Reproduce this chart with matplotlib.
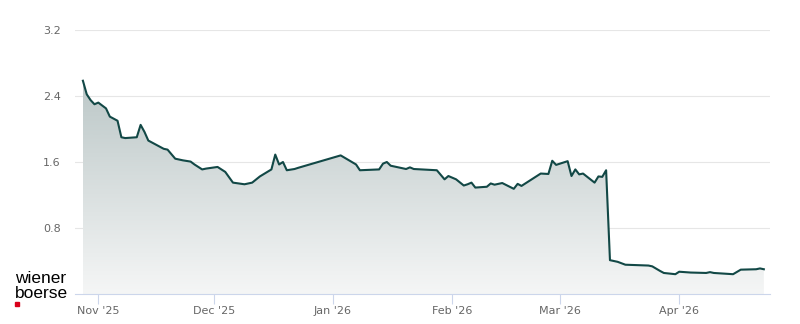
import matplotlib
matplotlib.use("Agg")
import matplotlib.pyplot as plt
import matplotlib.dates as mdates
from matplotlib.colors import LinearSegmentedColormap
from matplotlib.patches import Rectangle
import numpy as np
import pandas as pd

dates = ["2025-10-28", "2025-10-29", "2025-10-30", "2025-10-31", "2025-11-01",
         "2025-11-03", "2025-11-04", "2025-11-06", "2025-11-07", "2025-11-08",
         "2025-11-11", "2025-11-12", "2025-11-13", "2025-11-14", "2025-11-16",
         "2025-11-18", "2025-11-19", "2025-11-21", "2025-11-23", "2025-11-25",
         "2025-11-26", "2025-11-28", "2025-11-29", "2025-12-02", "2025-12-04",
         "2025-12-06", "2025-12-09", "2025-12-11", "2025-12-13", "2025-12-16",
         "2025-12-17", "2025-12-18", "2025-12-19", "2025-12-20", "2025-12-22",
         "2025-12-23", "2026-01-03", "2026-01-07", "2026-01-08", "2026-01-13",
         "2026-01-14", "2026-01-15", "2026-01-16", "2026-01-20", "2026-01-21",
         "2026-01-22", "2026-01-28", "2026-01-30", "2026-01-31", "2026-02-02",
         "2026-02-04", "2026-02-05", "2026-02-06", "2026-02-07", "2026-02-10",
         "2026-02-11", "2026-02-12", "2026-02-14", "2026-02-17", "2026-02-18",
         "2026-02-19", "2026-02-24", "2026-02-26", "2026-02-27", "2026-02-28",
         "2026-03-03", "2026-03-04", "2026-03-05", "2026-03-06", "2026-03-07",
         "2026-03-10", "2026-03-11", "2026-03-12", "2026-03-13", "2026-03-14",
         "2026-03-16", "2026-03-18", "2026-03-24", "2026-03-25", "2026-03-27",
         "2026-03-28", "2026-03-31", "2026-04-01", "2026-04-04", "2026-04-08",
         "2026-04-09", "2026-04-10", "2026-04-15", "2026-04-17", "2026-04-21",
         "2026-04-22", "2026-04-23"]

values = [2.585, 2.42, 2.35, 2.30, 2.32,
          2.25, 2.15, 2.10, 1.90, 1.89,
          1.90, 2.05, 1.965, 1.86, 1.81,
          1.76, 1.75, 1.64, 1.62, 1.605,
          1.57, 1.51, 1.52, 1.54, 1.48,
          1.35, 1.33, 1.35, 1.425, 1.51,
          1.69, 1.57, 1.60, 1.50, 1.515,
          1.53, 1.68, 1.57, 1.50, 1.51,
          1.58, 1.60, 1.555, 1.515, 1.535,
          1.515, 1.50, 1.39, 1.43, 1.39,
          1.315, 1.33, 1.35, 1.29, 1.30,
          1.34, 1.325, 1.345, 1.275, 1.335,
          1.31, 1.46, 1.455, 1.615, 1.565,
          1.61, 1.43, 1.51, 1.45, 1.46,
          1.35, 1.425, 1.42, 1.50, 0.41,
          0.39, 0.355, 0.345, 0.335, 0.28,
          0.255, 0.24, 0.27, 0.26, 0.255,
          0.265, 0.255, 0.24, 0.295, 0.30,
          0.31, 0.30]

y_ticks = [0.8, 1.6, 2.4, 3.2]
y_tick_labels = ["0.8", "1.6", "2.4", "3.2"]
x_ticks = ["2025-11-01", "2025-12-01", "2026-01-01", "2026-02-01", "2026-03-01", "2026-04-01"]
x_tick_labels = ["Nov '25", "Dec '25", "Jan '26", "Feb '26", "Mar '26", "Apr '26"]

W, H = 800, 324
fig = plt.figure(figsize=(W / 100, H / 100), dpi=100)
ax = fig.add_axes([74.6 / W, 30 / H, (770 - 74.6) / W, (294 - 30) / H])

x = mdates.date2num(pd.to_datetime(dates))
y = np.array(values)

line_color = "#124846"
poly = ax.fill_between(x, y, 0, facecolor="none", edgecolor="none", zorder=1)
cmap = LinearSegmentedColormap.from_list("g", [(245/255, 246/255, 246/255), (186/255, 198/255, 198/255)])
grad = np.linspace(0, 1, 256).reshape(-1, 1)
im = ax.imshow(grad, extent=[x.min(), x.max(), 0, 2.65], origin="lower",
               aspect="auto", cmap=cmap, zorder=1, interpolation="bilinear")
im.set_clip_path(poly.get_paths()[0], transform=ax.transData)

ax.plot(x, y, color=line_color, lw=1.5, zorder=3, solid_joinstyle="round")

x0 = mdates.date2num(pd.Timestamp("2025-11-01"))
ax.set_xlim(x0 - 6.16, x0 + 174.6)
ax.set_ylim(0, 3.2)

ax.set_yticks(y_ticks)
ax.set_yticklabels(y_tick_labels)
ax.set_xticks(mdates.date2num(pd.to_datetime(x_ticks)))
ax.set_xticklabels(x_tick_labels)

ax.grid(axis="y", color="#e6e6e6", lw=0.8, zorder=0)
ax.set_axisbelow(True)
for s in ["top", "right", "left"]:
    ax.spines[s].set_visible(False)
ax.spines["bottom"].set_color("#ccd6eb")
ax.spines["bottom"].set_linewidth(0.8)

ax.tick_params(axis="y", length=0, pad=10, labelsize=8, labelcolor="#666666")
ax.tick_params(axis="x", length=7, width=0.8, color="#ccd6eb", pad=2,
               labelsize=8, labelcolor="#666666")

# logo
fig.text(15 / W, 1 - 283 / H, "wiener", family="Liberation Sans", fontsize=12.5,
         color="black", va="baseline", ha="left")
fig.text(15 / W, 1 - 298 / H, "boerse", family="Liberation Sans", fontsize=12.5,
         color="black", va="baseline", ha="left")
fig.patches.append(Rectangle((15 / W, 1 - 306 / H), 4.3 / W, 4 / H,
                             transform=fig.transFigure, color="#d9001b"))

fig.savefig("out.png", dpi=100)
